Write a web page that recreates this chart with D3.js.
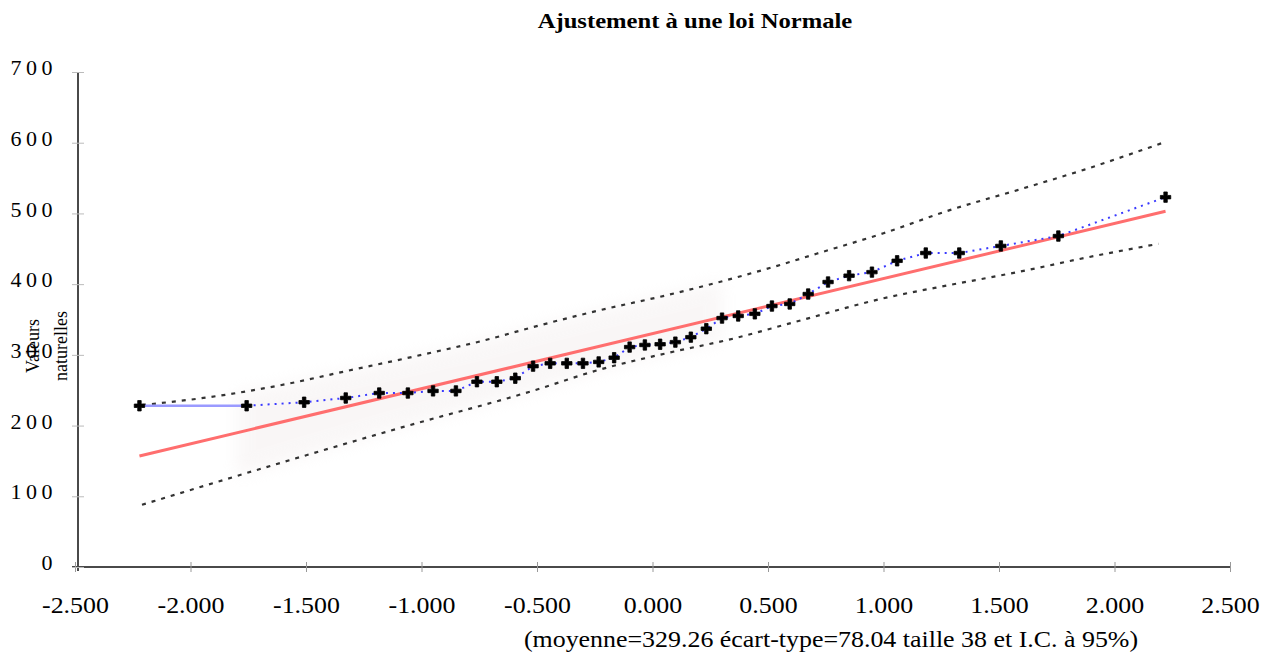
<!DOCTYPE html>
<html>
<head>
<meta charset="utf-8">
<script src="https://cdn.jsdelivr.net/npm/d3@7"></script>
<style>
  body { margin: 0; background: #fff; }
  svg { display: block; font-family: "Liberation Serif", "Times New Roman", serif; }
</style>
</head>
<body>
<div id="container"></div>
<script>
// Normal scores of the 38 ranked observations and the observed values
const zScores = [-2.221, -1.757, -1.508, -1.328, -1.183, -1.059, -0.950, -0.851, -0.760, -0.674,
    -0.594, -0.517, -0.443, -0.371, -0.301, -0.233, -0.166, -0.099, -0.033, 0.033,
    0.099, 0.166, 0.233, 0.301, 0.371, 0.443, 0.517, 0.594, 0.674, 0.760,
    0.851, 0.950, 1.059, 1.183, 1.328, 1.508, 1.757, 2.221];
const values = [228, 228, 233, 239, 246, 246, 249, 249, 262, 262,
    267, 284, 288, 288, 288, 290, 296, 311, 314, 315,
    318, 325, 337, 352, 355, 358, 369, 372, 386, 403,
    412, 417, 433, 444, 444, 454, 468, 523];

// fitted normal line (end points)
const fitZ = [-2.221, 2.221];
const fitValues = [157, 503];

// confidence band
const upperZ = [-2.21, -1.88, -1.58, -1.34, -1.00, -0.71, -0.52, -0.23, 0.07, 0.52, 0.71, 1.00, 1.29, 1.58, 1.87, 2.21];
const upperValues = [229, 242, 259, 276, 300, 322, 339, 363, 385, 424, 443, 472, 505, 533, 562, 600];
const lowerZ = [-2.21, -1.52, -1.09, -0.52, -0.23, 0.07, 0.35, 0.60, 1.00, 1.29, 1.58, 1.87, 2.19];
const lowerValues = [88, 156, 197, 249, 279, 303, 323, 345, 380, 399, 417, 437, 457];

const xTicks = [-2.5, -2, -1.5, -1, -0.5, 0, 0.5, 1, 1.5, 2, 2.5];
const yTicks = [0, 100, 200, 300, 400, 500, 600, 700];

const width = 1263;
const height = 661;
const stretch = 1.08; // the original text is drawn a little wide

const x = d3.scaleLinear([-2.5, 2.5], [75, 1230]);
const y = d3.scaleLinear([0, 700], [567, 72]);

const svg = d3.create("svg")
    .attr("width", width)
    .attr("height", height)
    .attr("viewBox", [0, 0, width, height]);

const defs = svg.append("defs");
defs.append("filter").attr("id", "haze")
    .attr("x", "-20%").attr("y", "-20%").attr("width", "140%").attr("height", "140%")
    .append("feGaussianBlur").attr("stdDeviation", 8);

// title
svg.append("text")
    .attr("transform", "translate(695,28) scale(1.12,1)")
    .attr("text-anchor", "middle")
    .attr("font-weight", "bold")
    .attr("font-size", 22)
    .text("Ajustement à une loi Normale");

// faint haze between the bands (as in the scanned original)
const bandArea = d3.area()
    .x(d => x(d[0]))
    .y0(d => y(d[1]))
    .y1(d => y(d[2]));
const bandPts = d3.range(-1.8, 0.35, 0.1).map(z => [z,
    d3.scaleLinear(lowerZ, lowerValues)(z), d3.scaleLinear(upperZ, upperValues)(z)]);
svg.append("path")
    .attr("d", bandArea(bandPts))
    .attr("fill", "#efe8e8")
    .attr("opacity", 0.35)
    .attr("filter", "url(#haze)");

// x axis
const xAxis = svg.append("g")
    .attr("transform", `translate(0,${y(0)})`)
    .call(d3.axisBottom(x).tickValues(xTicks).tickSize(4).tickPadding(27)
        .tickFormat(d => d.toFixed(3)));
xAxis.select(".domain").attr("stroke", "#4a4a4a").attr("stroke-width", 2).attr("d", `M${x(-2.5) - 3},0H${x(2.5)}`);
xAxis.selectAll(".tick line").attr("y1", -5).attr("y2", 5).attr("stroke", "#999");
xAxis.selectAll("text").attr("font-size", 24).attr("fill", "#000")
    .attr("dy", "0.62em")
    .attr("transform", `scale(${stretch},1)`)
    .attr("font-family", "Liberation Serif, serif");

// y axis
const axisX = 78;
const yAxis = svg.append("g")
    .attr("transform", `translate(${axisX},0)`)
    .call(d3.axisLeft(y).tickValues(yTicks).tickSize(5).tickPadding(15).tickFormat(d3.format("d")));
yAxis.select(".domain").attr("stroke", "#4a4a4a").attr("stroke-width", 2).attr("d", `M0,${y(700)}V${y(0) + 4}`);
yAxis.selectAll(".tick line").attr("x1", -6).attr("x2", 6).attr("stroke", "#bbb");
yAxis.selectAll("text").attr("font-size", 22).attr("fill", "#000")
    .attr("letter-spacing", 4.5).attr("dy", "0.12em")
    .attr("x", -21)
    .attr("font-family", "Liberation Serif, serif");

// y axis title, two rotated lines
const yTitle = svg.append("text")
    .attr("transform", "translate(39,346) rotate(-90)")
    .attr("text-anchor", "middle")
    .attr("font-size", 18);
yTitle.append("tspan").attr("x", 0).attr("y", 0).text("Valeurs");
yTitle.append("tspan").attr("x", 0).attr("y", 28).text("naturelles");

// confidence band lines
const line = d3.line().x(d => x(d[0])).y(d => y(d[1]));
const curved = d3.line().curve(d3.curveMonotoneX).x(d => x(d[0])).y(d => y(d[1]));

svg.append("path")
    .attr("d", curved(d3.zip(upperZ, upperValues)))
    .attr("fill", "none")
    .attr("stroke", "#333")
    .attr("stroke-width", 2.2)
    .attr("stroke-dasharray", "4,6");
svg.append("path")
    .attr("d", curved(d3.zip(lowerZ, lowerValues)))
    .attr("fill", "none")
    .attr("stroke", "#333")
    .attr("stroke-width", 2.2)
    .attr("stroke-dasharray", "4,6");

// fitted line
svg.append("path")
    .attr("d", line(d3.zip(fitZ, fitValues)))
    .attr("fill", "none")
    .attr("stroke", "#ff6e6e")
    .attr("stroke-width", 3);

// observations joined by a blue dotted line
const obs = d3.zip(zScores, values);
svg.append("path")
    .attr("d", line(obs.slice(0, 2)))
    .attr("fill", "none")
    .attr("stroke", "#9a9aff")
    .attr("stroke-width", 2.5);
svg.append("path")
    .attr("d", line(obs.slice(1)))
    .attr("fill", "none")
    .attr("stroke", "#3a3aff")
    .attr("stroke-width", 2)
    .attr("stroke-dasharray", "2,5");

svg.append("g")
    .selectAll("path")
    .data(obs)
    .join("path")
    .attr("transform", d => `translate(${x(d[0])},${y(d[1])})`)
    .attr("d", d3.symbol(d3.symbolCross, 60))
    .attr("fill", "#000")
    .attr("stroke", "#000")
    .attr("stroke-width", 0.8)
    .attr("stroke-linejoin", "round");

// footer
svg.append("text")
    .attr("transform", `translate(831,647) scale(${stretch},1)`)
    .attr("text-anchor", "middle")
    .attr("font-size", 24)
    .text("(moyenne=329.26 écart-type=78.04 taille 38 et I.C. à 95%)");

d3.select("#container").append(() => svg.node());
</script>
</body>
</html>
